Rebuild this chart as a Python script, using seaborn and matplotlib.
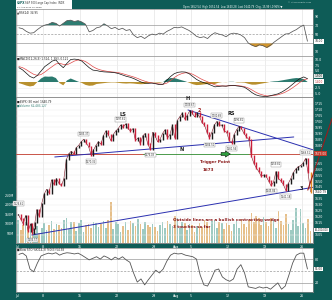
import numpy as np
import pandas as pd
import matplotlib
matplotlib.use("Agg")
import matplotlib.pyplot as plt
from matplotlib.patches import Rectangle
from matplotlib.transforms import blended_transform_factory
import seaborn as sns

sns.set_theme(style="white")
plt.rcParams['font.family'] = ['DejaVu Sans']

# ---------------- data ----------------
holidays = ["2013-07-04"]
half_sessions = ["2013-07-03"]
session_dates = [d.strftime("%Y-%m-%d") for d in pd.bdate_range("2013-07-01", "2013-08-27")
                 if d.strftime("%Y-%m-%d") not in holidays]

closes_by_day = [
    [1622, 1618, 1614], [1621, 1608, 1614], [1606, 1610, 1615], [1626, 1620, 1631],
    [1639, 1643, 1640], [1651, 1647, 1652], [1648, 1646, 1652], [1668, 1673, 1675],
    [1673, 1678, 1680], [1683, 1685, 1682], [1679, 1672, 1676], [1680, 1683, 1681],
    [1688, 1692, 1689], [1684, 1689, 1692], [1694, 1697, 1695], [1698, 1694, 1692],
    [1694, 1684, 1686], [1681, 1688, 1690], [1681, 1677, 1691], [1688, 1683, 1685],
    [1690, 1693, 1686], [1689, 1697, 1686], [1701, 1704, 1707], [1702, 1705, 1709],
    [1707, 1704, 1707], [1704, 1699, 1697], [1691, 1686, 1691], [1697, 1700, 1697],
    [1697, 1692, 1691], [1684, 1682, 1689], [1693, 1696, 1694], [1690, 1687, 1685],
    [1671, 1665, 1661], [1658, 1654, 1655], [1654, 1650, 1646], [1649, 1658, 1652],
    [1650, 1647, 1642], [1648, 1652, 1657], [1660, 1662, 1663], [1665, 1669, 1657],
    [1640.79],
]
volumes_by_day = [
    [120, 70, 95], [110, 85, 100], [75, 60, 50], [90, 55, 80],
    [105, 70, 95], [115, 75, 100], [95, 80, 120], [130, 75, 110],
    [110, 65, 105], [120, 60, 95], [100, 80, 110], [105, 85, 100],
    [115, 80, 120], [215, 75, 110], [100, 60, 90], [110, 70, 115],
    [105, 90, 125], [100, 75, 110], [95, 85, 100], [85, 65, 95],
    [110, 80, 115], [100, 90, 140], [130, 80, 110], [105, 70, 100],
    [95, 60, 90], [105, 85, 120], [110, 90, 115], [120, 80, 110],
    [105, 75, 105], [95, 65, 100], [115, 80, 125], [100, 85, 120],
    [160, 110, 140], [130, 95, 135], [110, 90, 130], [120, 80, 170],
    [115, 95, 150], [100, 70, 120], [185, 90, 180], [105, 80, 125],
    [62],
]

rsi_values = [64, 62, 56, 52, 53, 60, 66, 70, 72, 76,
              74, 68, 74, 80, 81, 78, 80, 77, 72, 55,
              58, 64, 66, 73, 68, 62, 65, 60, 63, 58,
              60, 48, 42, 45, 40, 46, 50, 48, 52, 50,
              56, 60, 65, 64, 66, 62, 58, 52, 45, 42,
              44, 40, 48, 53, 50, 48, 44, 50, 52, 51,
              48, 42, 30, 25, 22, 26, 24, 20, 25, 32,
              38, 44, 50, 51, 56, 60, 66, 70, 34]
macd_values = [6.5, 5.5, 4.0, 2.5, 1.8, 3.0, 5.0, 7.0, 8.2, 9.5,
               10.0, 8.0, 6.5, 8.5, 10.2, 10.4, 10.2, 9.5, 8.0, 6.5,
               5.4, 5.2, 4.8, 4.6, 4.5, 4.4, 4.2, 3.8, 3.2, 2.6,
               2.2, 1.6, 0.8, 0.0, -0.5, -0.6, -0.5, -0.8, -1.2, -1.0,
               0.8, 2.5, 3.8, 4.4, 4.6, 4.5, 3.8, 2.5, 1.2, 0.3,
               -0.3, -0.8, -1.5, -2.2, -2.0, -1.8, -1.9, -1.6, -1.5, -1.8,
               -2.0, -2.4, -3.5, -4.8, -5.8, -6.3, -6.5, -6.6, -6.2, -5.8,
               -5.4, -4.6, -3.6, -2.4, -1.0, 0.4, 1.6, 2.3, 1.5]
signal_values = [7.0, 6.5, 5.6, 4.5, 3.5, 3.0, 3.4, 4.5, 5.8, 7.0,
                 8.2, 8.5, 8.0, 7.8, 8.6, 9.5, 10.0, 9.9, 9.3, 8.2,
                 7.0, 6.1, 5.5, 5.1, 4.8, 4.6, 4.4, 4.2, 3.8, 3.3,
                 2.8, 2.3, 1.7, 1.0, 0.4, -0.1, -0.4, -0.6, -0.9, -1.0,
                 -0.5, 0.7, 2.0, 3.1, 3.8, 4.2, 4.1, 3.5, 2.6, 1.6,
                 0.8, 0.1, -0.6, -1.3, -1.7, -1.8, -1.8, -1.7, -1.6, -1.6,
                 -1.8, -2.1, -2.7, -3.6, -4.6, -5.4, -5.9, -6.3, -6.3, -6.1,
                 -5.8, -5.3, -4.6, -3.7, -2.6, -1.4, -0.1, 1.0, 1.4]
stoch_values = [92, 95, 88, 55, 48, 70, 88, 92, 95, 93,
                96, 90, 94, 96, 95, 93, 95, 90, 84, 78,
                82, 86, 80, 88, 84, 78, 85, 80, 86, 78,
                72, 45, 22, 30, 15, 28, 40, 52, 45, 55,
                75, 90, 95, 93, 94, 90, 88, 86, 80, 40,
                15, 12, 30, 52, 55, 35, 28, 24, 30, 55,
                66, 45, 10, 8, 6, 10, 7, 9, 4, 12,
                20, 4, 12, 40, 70, 90, 95, 95, 55]

tick_dates = ["2013-07-01", "2013-07-08", "2013-07-15", "2013-07-22", "2013-07-29",
              "2013-08-01", "2013-08-05", "2013-08-12", "2013-08-19", "2013-08-26"]
tick_labels = ["Jul", "8", "15", "22", "29", "Aug", "5", "12", "19", "26"]

price_ticks = list(range(1605, 1716, 5))
volume_ticks = [50, 100, 150, 200, 250]
macd_ticks = [-5.0, -2.5, 5.0, 7.5, 10.0]

pivot_labels = ["1626.61", "1604.57", "1685.37", "1670.36", "1697.61", "1676.03", "1709.67",
                "1684.51", "1700.68", "1681.56", "1696.81", "1645.84", "1659.82", "1641.18", "1669.51"]
pivot_dates = ["2013-07-01", "2013-07-03", "2013-07-15", "2013-07-16", "2013-07-22", "2013-07-26",
               "2013-08-02", "2013-08-07", "2013-08-08", "2013-08-12", "2013-08-13", "2013-08-19",
               "2013-08-20", "2013-08-21", "2013-08-26"]
pivot_side = ["hi", "lo", "hi", "lo", "hi", "lo", "hi", "lo", "hi", "lo", "hi", "lo", "hi", "lo", "hi"]

trigger_level = 1673
neckline = ([5.1, 37.4], [1670.2, 1687.0])
upper_line = ([23.1, 40.0], [1709.7, 1676.2])
lower_line = ([2.0, 40.0], [1604.6, 1644.7])
rise_line = ([39.3, 42.6], [1642.4, 1702.9])

# ---------------- layout helpers ----------------
TEAL = "#0e5c57"
W, H = 332, 300
fig = plt.figure(figsize=(W / 100, H / 100), dpi=100, facecolor=TEAL)


def axes_px(x0, y0, x1, y1):
    return fig.add_axes([x0 / W, 1 - y1 / H, (x1 - x0) / W, (y1 - y0) / H])


def fpx(x, y):
    return x / W, 1 - y / H


day_start, day_width = {}, {}
cur = 0.0
for d in session_dates:
    w = 0.5 if d in half_sessions else 1.0
    day_start[d], day_width[d] = cur, w
    cur += w

bar_x, bar_c, bar_v = [], [], []
for d, cl, vo in zip(session_dates, closes_by_day, volumes_by_day):
    for k, (c, v) in enumerate(zip(cl, vo)):
        bar_x.append(day_start[d] + day_width[d] * (k + 0.5) / 3)
        bar_c.append(c)
        bar_v.append(v)
bar_x, bar_c, bar_v = map(np.array, (bar_x, bar_c, bar_v))
prev_c = np.r_[bar_c[0], bar_c[:-1]]
up = bar_c >= prev_c

ind_x = 0.25 + 0.5 * np.arange(len(rsi_values))
tick_pos = [day_start[d] for d in tick_dates]
XMIN, XMAX = -0.14, 40.0

ax_rsi = axes_px(16, 9, 313, 56)
ax_macd = axes_px(16, 56, 313, 97)
ax_vol = axes_px(16, 97, 313, 243)
ax_px = ax_vol.twinx()
ax_sto = axes_px(16, 248, 313, 292)

FS = 2.3
for ax in (ax_rsi, ax_macd, ax_vol, ax_px, ax_sto):
    ax.set_xlim(XMIN, XMAX)
    ax.set_xticks(tick_pos)
    for s in ax.spines.values():
        s.set_color("#8a8a8a")
        s.set_linewidth(0.5)
    ax.tick_params(length=0, labelsize=FS, labelcolor="white", pad=1.5,
                   labelbottom=False, labelleft=False, left=False, right=False)
for ax in (ax_rsi, ax_macd, ax_vol, ax_sto):
    ax.set_facecolor("white")
    ax.grid(axis="x", color="#dedede", lw=0.4)
    ax.set_axisbelow(True)
for ax in (ax_rsi, ax_macd, ax_sto):
    ax.yaxis.tick_right()
    ax.tick_params(labelright=True)

label_tr = lambda ax: blended_transform_factory(ax.transAxes, ax.transData)


def value_box(ax, val, txt, fc="white", tc="#222"):
    ax.text(1.006, val, txt, transform=label_tr(ax), fontsize=2.1, color=tc, va="center", ha="left",
            bbox=dict(fc=fc, ec="none", pad=0.25), clip_on=False, zorder=10)


# ---------------- RSI ----------------
rsi = np.array(rsi_values, float)
ax_rsi.set_ylim(1, 106)
ax_rsi.set_yticks([10, 50, 70, 90])
for lv, ls in ((70, "-"), (30, "-"), (50, (0, (3, 2)))):
    ax_rsi.axhline(lv, color="#9a9a9a", lw=0.5, ls=ls, zorder=1)
ax_rsi.fill_between(ind_x, rsi, 70, where=rsi > 70, interpolate=True, color="#2e7d72", lw=0, zorder=2)
ax_rsi.fill_between(ind_x, rsi, 30, where=rsi < 30, interpolate=True, color="#d3962c", lw=0, zorder=2)
sns.lineplot(x=ind_x, y=rsi, ax=ax_rsi, color="#555555", lw=0.55, zorder=3)
ax_rsi.set_xlabel(""); ax_rsi.set_ylabel("")
ax_rsi.text(0.004, 0.97, "\u25b2RSI(14) 34.95", transform=ax_rsi.transAxes, fontsize=2.0, va="top", color="#222")
value_box(ax_rsi, rsi[-1], f"{rsi[-1]:.2f}")

# ---------------- MACD ----------------
macd = np.array(macd_values, float)
sig = np.array(signal_values, float)
hist = macd - sig
ax_macd.set_ylim(-6.8, 11.8)
ax_macd.set_yticks(macd_ticks)
ax_macd.set_yticklabels([f"{t:.1f}" for t in macd_ticks])
ax_macd.grid(axis="y", color="#ececec", lw=0.4)
ax_macd.fill_between(ind_x, hist, 0, where=hist > 0, interpolate=True, color="#2b7a6f", lw=0, zorder=2)
ax_macd.fill_between(ind_x, hist, 0, where=hist < 0, interpolate=True, color="#b8902e", lw=0, zorder=2)
sns.lineplot(x=ind_x, y=sig, ax=ax_macd, color="#e04848", lw=0.5, zorder=3)
sns.lineplot(x=ind_x, y=macd, ax=ax_macd, color="#111111", lw=0.5, zorder=4)
ax_macd.set_xlabel(""); ax_macd.set_ylabel("")
ax_macd.text(0.004, 0.97, "\u25a0MACD(12,26,9) 1.514, 1.393, 0.121", transform=ax_macd.transAxes,
             fontsize=2.0, va="top", color="#222")
value_box(ax_macd, 2.7, f"{macd[-1]:.3f}", fc="#dfe9e7")
value_box(ax_macd, 0.1, f"{sig[-1]:.3f}", fc="white", tc="#c03030")

# ---------------- Price + volume ----------------
ax_vol.set_ylim(0, 766)
ax_vol.set_yticks(volume_ticks)
ax_vol.set_yticklabels([f"{v}M" for v in volume_ticks])
ax_vol.tick_params(labelleft=True, labelbottom=True)
ax_vol.set_xticklabels(tick_labels)
ax_vol.bar(bar_x, bar_v, width=0.22, color=np.where(up, "#86bdb3", "#e0b06c"), alpha=0.8, lw=0, zorder=2)

PY0, PY1 = 1597.9, 1720.6
ax_px.set_ylim(PY0, PY1)
# keep price ticks clear of the highlighted value boxes
px_per_pt = 146 / (PY1 - PY0)
busy = [bar_c[-1], trigger_level, PY0 + 0.09 * (PY1 - PY0)]
shown_ticks = [t for t in price_ticks if all(abs(t - b) * px_per_pt > 4.0 for b in busy)]
ax_px.set_yticks(shown_ticks)
ax_px.tick_params(labelright=True)
ax_px.patch.set_visible(False)
ax_px.grid(axis="y", color="#ececec", lw=0.35)
ax_px.set_axisbelow(True)

ax_px.plot([XMIN, 17.0], [trigger_level, trigger_level], color="#c0392b", lw=0.6, zorder=3)
ax_px.plot([17.0, 31.4], [trigger_level, trigger_level], color="#2e8b2e", lw=0.6, zorder=3)
ax_px.plot([31.4, XMAX], [trigger_level, trigger_level], color="#c0392b", lw=0.6, zorder=3)

for (xs, ys) in (neckline, upper_line, lower_line):
    ax_px.plot(xs, ys, color="#2a2fb0", lw=0.7, zorder=4)

body_col = np.where(up, "#1a1a1a", "#cc1f3a").astype(object)
body_col[-1] = "#e8891c"
sns.lineplot(x=bar_x, y=bar_c, ax=ax_px, color="#7a1424", lw=0.4, zorder=5)
ax_px.vlines(bar_x, np.minimum(prev_c, bar_c) - 0.6, np.maximum(prev_c, bar_c) + 0.6,
             colors=list(body_col), lw=1.0, zorder=6)
ax_px.set_xlabel(""); ax_px.set_ylabel("")
ax_px.plot(*rise_line, color="#9b1c1c", lw=0.8, zorder=7, clip_on=False)

for txt, d, side in zip(pivot_labels, pivot_dates, pivot_side):
    val = float(txt)
    sel = (bar_x >= day_start[d]) & (bar_x < day_start[d] + day_width[d])
    xi, cl = bar_x[sel], bar_c[sel]
    xpos = xi[np.argmax(cl)] if side == "hi" else xi[np.argmin(cl)]
    off = 2.2 if side == "hi" else -2.2
    ax_px.annotate(txt, (xpos, val), xytext=(0, off), textcoords="offset points",
                   ha="center", va="bottom" if side == "hi" else "top", fontsize=1.8, color="#333",
                   bbox=dict(fc="white", ec="#8a8a8a", lw=0.3, pad=0.25), zorder=9)

bold_dark = dict(fontsize=3.6, fontweight="bold", color="#1a1a1a", ha="center", va="center", zorder=9)
ax_px.text(14.3, 1706.3, "LS", **bold_dark)
ax_px.text(23.1, 1719.4, "H", **bold_dark)
ax_px.text(28.9, 1707.1, "RS", **bold_dark)
ax_px.text(22.2, 1676.1, "N", **bold_dark)
ax_px.text(38.4, 1644.1, "3", **bold_dark)
ax_px.text(24.6, 1709.2, "2", fontsize=3.4, fontweight="bold", color="#9b1c1c", ha="center", va="center", zorder=9)
red_txt = dict(fontsize=3.0, fontweight="bold", color="#8b1a1a", zorder=9)
ax_px.text(26.8, 1666.0, "Trigger Point", ha="center", va="center", **red_txt)
ax_px.text(25.8, 1659.2, "1673", ha="center", va="center", **red_txt)
ax_px.text(21.1, 1617.2, "Outside lines are a bullish contracting wedge", ha="left", va="center", **red_txt)
ax_px.text(21.1, 1611.3, "3 touches so far", ha="left", va="center", **red_txt)
ax_px.annotate("", xy=(29.2, 1672.7), xytext=(27.2, 1672.7),
               arrowprops=dict(arrowstyle="simple,head_width=0.9,head_length=0.7,tail_width=0.45",
                               fc="#2f9e3f", ec="black", lw=0.35, mutation_scale=5), zorder=9)

ax_vol.text(0.004, 0.985, "\u25a0$SPX (60 min) 1640.79", transform=ax_vol.transAxes, fontsize=2.0,
            va="top", color="#222", zorder=10)
ax_vol.text(0.004, 0.955, "\u25a0Volume 62,483,127", transform=ax_vol.transAxes, fontsize=2.0,
            va="top", color="#2b7a6f", zorder=10)
value_box(ax_px, bar_c[-1], f"{bar_c[-1]:.2f}")
value_box(ax_px, trigger_level, f"{trigger_level:.2f}", fc="#c0392b", tc="white")
ax_px.text(1.006, 0.09, f"{bar_v[-1] * 1e6:,.0f}", transform=ax_px.transAxes, fontsize=1.8, color="#222",
           va="center", ha="left", bbox=dict(fc="white", ec="none", pad=0.25), clip_on=False, zorder=10)

# ---------------- Slow stochastic ----------------
sto = np.array(stoch_values, float)
ax_sto.set_ylim(-3, 108)
ax_sto.set_yticks([20, 80])
for lv, ls in ((80, "-"), (20, "-"), (50, (0, (3, 2)))):
    ax_sto.axhline(lv, color="#9a9a9a", lw=0.5, ls=ls, zorder=1)
sns.lineplot(x=ind_x, y=sto, ax=ax_sto, color="#555555", lw=0.6, zorder=3)
ax_sto.set_xlabel(""); ax_sto.set_ylabel("")
ax_sto.tick_params(labelbottom=True)
ax_sto.set_xticklabels(tick_labels)
ax_sto.text(0.004, 1.0, "\u25a0Slow STO %K(14,3) %D(3) 54.58", transform=ax_sto.transAxes, fontsize=2.0,
            va="top", color="#222")
value_box(ax_sto, sto[-1], f"{sto[-1]:.2f}")

# ---------------- header ----------------
fig.patches.append(Rectangle(fpx(16, 9), 56 / W, 9 / H, transform=fig.transFigure, fc="white", ec="none"))
fig.text(*fpx(17, 3.2), "$SPX", fontsize=2.1, fontweight="bold", color=TEAL, va="center")
fig.text(*fpx(25, 3.2), "S&P 500 Large Cap Index  INDX", fontsize=1.8, color="#333", va="center")
fig.text(*fpx(17, 7.0), "27-Aug-2013 10:30am", fontsize=1.6, color="#333", va="center")
fig.text(*fpx(183, 7.0), "Open 1652.54  High 1652.54  Low 1640.28  Last 1640.79  Chg -15.99 (-0.96%)\u25bc",
         fontsize=1.8, color="white", va="center")
fig.text(*fpx(311, 2.5), "\u00a9 StockCharts.com", fontsize=1.7, color="#cfe3e0", va="center", ha="right")

fig.savefig("out.png", dpi=100, facecolor=TEAL)
